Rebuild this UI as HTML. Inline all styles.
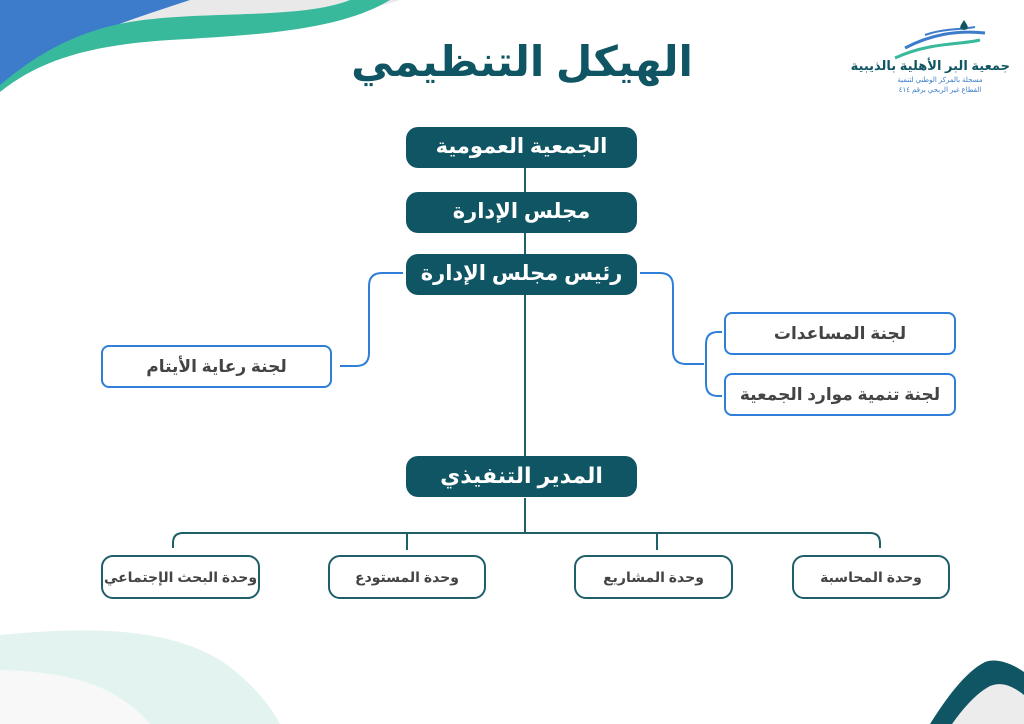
<!DOCTYPE html>
<html><head><meta charset="utf-8"><style>
html,body{margin:0;padding:0;background:#fff;}
body{width:1024px;height:724px;overflow:hidden;position:relative;font-family:"Liberation Sans","DejaVu Sans",sans-serif;}
svg{position:absolute;left:0;top:0;}
.t{position:absolute;direction:rtl;text-align:center;font-weight:bold;white-space:nowrap;}
.dark{background:#0f5563;color:#fff;border-radius:12px;font-size:21px;line-height:40px;height:41px;}
.blue{border:2px solid #2f7fd8;border-radius:8px;color:#444;font-size:17px;box-sizing:border-box;}
.unit{border:2px solid #1f5f69;border-radius:12px;color:#444;font-size:14px;box-sizing:border-box;letter-spacing:-0.3px;}
</style></head><body>
<svg width="1024" height="724" viewBox="0 0 1024 724">
 <path d="M0,0 L400,0 C340,20 250,25 160,30 C90,35 30,60 0,90 Z" fill="#e9e9e9"/>
 <path d="M0,0 L190,0 C130,20 60,40 0,90 Z" fill="#3c7ccb"/>
 <path d="M0,92 C40,60 90,45 170,40 C260,35 340,30 390,0 L350,0 C300,20 200,10 130,22 C70,32 30,60 0,85 Z" fill="#38b99c"/>
 <path d="M0,635 C100,625 170,630 220,660 C250,680 270,705 280,724 L0,724 Z" fill="#e3f4f0"/>
 <path d="M0,670 C80,672 120,690 150,724 L0,724 Z" fill="#f8f8f8"/>
 <path d="M1024,672 C1010,662 995,658 985,662 C965,672 945,700 930,724 L1024,724 Z" fill="#0f5563"/>
 <path d="M1024,695 C1010,684 1000,682 990,686 C975,694 962,710 952,724 L1024,724 Z" fill="#ececec"/>
 <path d="M905,48 C930,35 955,30 985,33" stroke="#3c7ccb" stroke-width="3" fill="none"/>
 <path d="M895,58 C930,42 960,45 980,40" stroke="#38b99c" stroke-width="3" fill="none"/>
 <path d="M925,35 C945,28 960,30 975,27" stroke="#3c7ccb" stroke-width="2" fill="none"/>
 <path d="M964,20 C960,26 958,29 964,30 C970,29 968,26 964,20Z" fill="#0f5563"/>
 <g stroke="#1f5f69" stroke-width="2" fill="none">
  <line x1="525" y1="168" x2="525" y2="456"/>
  <line x1="525" y1="498" x2="525" y2="533"/>
  <path d="M173,548 L173,543 Q173,533 183,533 L870,533 Q880,533 880,543 L880,548"/>
  <line x1="407" y1="533" x2="407" y2="550"/>
  <line x1="657" y1="533" x2="657" y2="550"/>
 </g>
 <g stroke="#2f7fd8" stroke-width="2" fill="none">
  <path d="M403,273 L382,273 Q369,273 369,286 L369,353 Q369,366 356,366 L340,366"/>
  <path d="M640,273 L660,273 Q673,273 673,286 L673,351 Q673,364 686,364 L704,364"/>
  <path d="M722,332 L718,332 Q706,332 706,344 L706,384 Q706,396 718,396 L722,396"/>
 </g>
</svg>
<div class="t" style="left:870px;top:58px;width:140px;font-size:13px;color:#0f5563;">جمعية البر الأهلية بالذيبية</div>
<div class="t" style="left:870px;top:76px;width:140px;font-size:7px;color:#3c7ccb;font-weight:normal;">مسجلة بالمركز الوطني لتنمية</div>
<div class="t" style="left:870px;top:86px;width:140px;font-size:7px;color:#3c7ccb;font-weight:normal;">القطاع غير الربحي برقم ٤١٤</div>

<div class="t" style="left:322px;top:32px;width:400px;font-size:42px;line-height:60px;color:#0f5563;">الهيكل التنظيمي</div>

<div class="t dark" style="left:406px;top:127px;width:231px;">الجمعية العمومية</div>
<div class="t dark" style="left:406px;top:192px;width:231px;">مجلس الإدارة</div>
<div class="t dark" style="left:406px;top:254px;width:231px;">رئيس مجلس الإدارة</div>
<div class="t dark" style="left:406px;top:456px;width:231px;font-size:22px;">المدير التنفيذي</div>

<div class="t blue" style="left:101px;top:345px;width:231px;height:43px;line-height:39px;">لجنة رعاية الأيتام</div>
<div class="t blue" style="left:724px;top:312px;width:232px;height:43px;line-height:39px;">لجنة المساعدات</div>
<div class="t blue" style="left:724px;top:373px;width:232px;height:43px;line-height:39px;">لجنة تنمية موارد الجمعية</div>

<div class="t unit" style="left:101px;top:555px;width:159px;height:44px;line-height:40px;">وحدة البحث الإجتماعي</div>
<div class="t unit" style="left:328px;top:555px;width:158px;height:44px;line-height:40px;">وحدة المستودع</div>
<div class="t unit" style="left:574px;top:555px;width:159px;height:44px;line-height:40px;">وحدة المشاريع</div>
<div class="t unit" style="left:792px;top:555px;width:158px;height:44px;line-height:40px;">وحدة المحاسبة</div>
</body></html>
